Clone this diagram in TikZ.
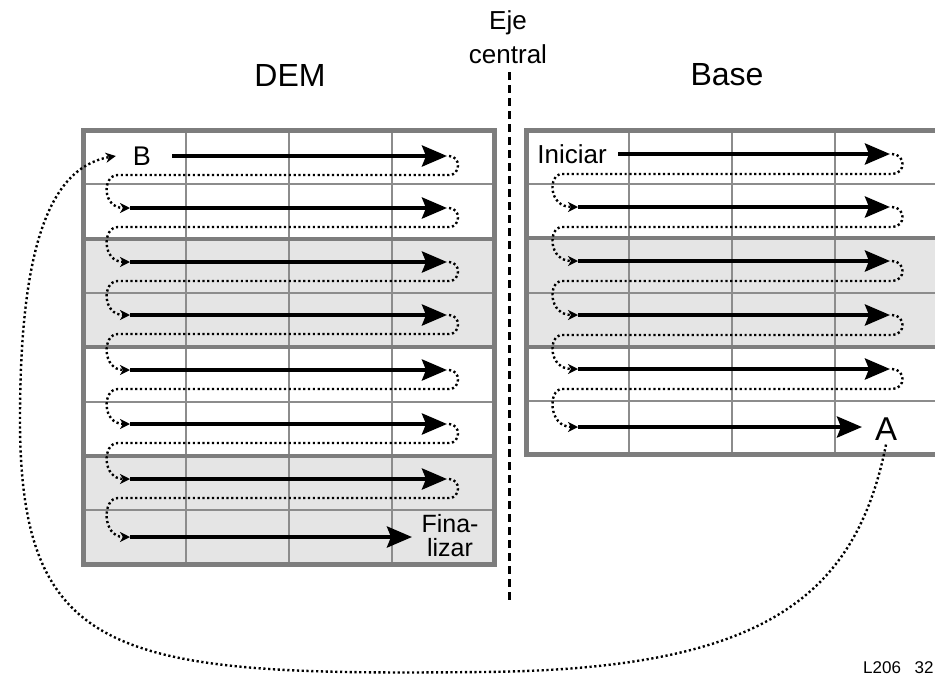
\documentclass[tikz,border=0pt]{standalone}
\usepackage{fontspec}
\setmainfont{Liberation Sans}
\usetikzlibrary{arrows.meta}
\definecolor{gridgray}{HTML}{8C8C8C}
\definecolor{bordergray}{HTML}{7D7D7D}
\definecolor{cellgray}{HTML}{E5E5E5}

\begin{document}
\begin{tikzpicture}[x=1pt,y=-1pt,
  thinline/.style={draw=gridgray, line width=2pt},
  thickline/.style={draw=bordergray, line width=4pt},
  frame/.style={draw=bordergray, line width=5pt},
  flow/.style={line width=4pt, -{Stealth[length=25pt,width=21pt,inset=4pt]}},
  loopline/.style={line width=2.4pt, dash pattern=on 2.2pt off 2.6pt,
    -{Stealth[length=10pt,width=10pt,inset=3pt]}},
  axisline/.style={line width=3pt, dash pattern=on 8pt off 5pt},
  label/.style={inner sep=0pt, font=\fontsize{26}{22}\selectfont},
  title/.style={inner sep=0pt, font=\fontsize{32}{38}\selectfont}]
\useasboundingbox (0,0) rectangle (935,675);

% ---------- DEM grid: 4 columns x 8 rows ----------
\fill[cellgray] (83.5,238.6) rectangle (494.5,347.2);
\fill[cellgray] (83.5,455.8) rectangle (494.5,564.5);
\foreach \y in {184.3,292.9,401.5,510.1}
  \draw[thinline] (83.5,\y) -- (494.5,\y);
\foreach \x in {186.25,289,391.75}
  \draw[thinline] (\x,130) -- (\x,564.5);
\foreach \y in {238.6,347.2,455.8}
  \draw[thickline] (83.5,\y) -- (494.5,\y);
\draw[frame] (83.5,130) rectangle (494.5,564.5);

% ---------- Base grid: 4 columns x 6 rows ----------
\fill[cellgray] (526,238.4) rectangle (941,346.6);
\foreach \y in {184.3,292.5,400.7}
  \draw[thinline] (526,\y) -- (941,\y);
\foreach \x in {628.5,731.5,835}
  \draw[thinline] (\x,130) -- (\x,454.5);
\foreach \y in {238.4,346.6}
  \draw[thickline] (526,\y) -- (941,\y);
\draw[frame] (526,130) rectangle (941,454.5);

% ---------- titles and central axis ----------
\node[title] (dem) at (290,75) {DEM};
\node[title] (base) at (727,75) {Base};
\node[label, align=center, font=\fontsize{26}{34}\selectfont] (eje) at (508,37) {Eje\\central};
\coordinate (axtop) at (509,72);
\coordinate (axbot) at (509,600);
\draw[axisline] (axtop) -- (axbot);

% ---------- labels inside the grids ----------
\node[label, font=\fontsize{27}{30}\selectfont] (B) at (142,156) {B};
\node[label] (ini) at (572,154) {Iniciar};
\node[label, align=center, font=\fontsize{25}{24}\selectfont] (fin) at (450,536) {Fina-\\lizar};
\node[label, font=\fontsize{33}{36}\selectfont] (A) at (886,429) {A};
\node[anchor=base west, inner sep=0pt, font=\fontsize{17}{20}\selectfont] (code) at (863,673) {L206\hspace{0.8em}32};

% ---------- DEM: solid passes, left to right ----------
\foreach \s/\e/\y [count=\i] in {172/447/156, 130/447/208, 130/447/262, 130/447/315,
    130/447/370, 130/447/424, 130/447/479, 130/412/537} {
  \coordinate (ds\i) at (\s,\y);
  \coordinate (de\i) at (\e,\y);
  \draw[flow] (ds\i) -- (de\i);
}
% ---------- DEM: dotted returns to the next row ----------
\foreach \a/\b [count=\i] in {156/208, 208/262, 262/315, 315/370, 370/424, 424/479, 479/537} {
  \coordinate (dr\i) at (449,\a);
  \coordinate (dn\i) at (130,\b);
  \draw[loopline] (dr\i) .. controls (461,\a) and (461,{\a+19}) .. (449,{\a+19})
    -- (118,{\a+19}) .. controls (102,{\a+19}) and (102,\b) .. (dn\i);
}

% ---------- Base: solid passes ----------
\foreach \s/\e/\y [count=\i] in {618/890/154, 578/890/207, 578/890/261, 578/890/315,
    578/890/369, 578/862/427} {
  \coordinate (bs\i) at (\s,\y);
  \coordinate (be\i) at (\e,\y);
  \draw[flow] (bs\i) -- (be\i);
}
% ---------- Base: dotted returns ----------
\foreach \a/\b [count=\i] in {154/207, 207/261, 261/315, 315/369, 369/427} {
  \coordinate (br\i) at (892,\a);
  \coordinate (bn\i) at (578,\b);
  \draw[loopline] (br\i) .. controls (906,\a) and (906,{\a+20}) .. (892,{\a+20})
    -- (562,{\a+20}) .. controls (548,{\a+20}) and (548,\b) .. (bn\i);
}

% ---------- long transfer from A back to B ----------
\draw[loopline] ([yshift=-4pt]A.south) .. controls (855,600) and (760,670) .. (480,672)
  .. controls (120,676) and (20,660) .. (20,420)
  .. controls (20,260) and (45,168) .. ([xshift=-17pt]B.west);
\end{tikzpicture}
\end{document}
